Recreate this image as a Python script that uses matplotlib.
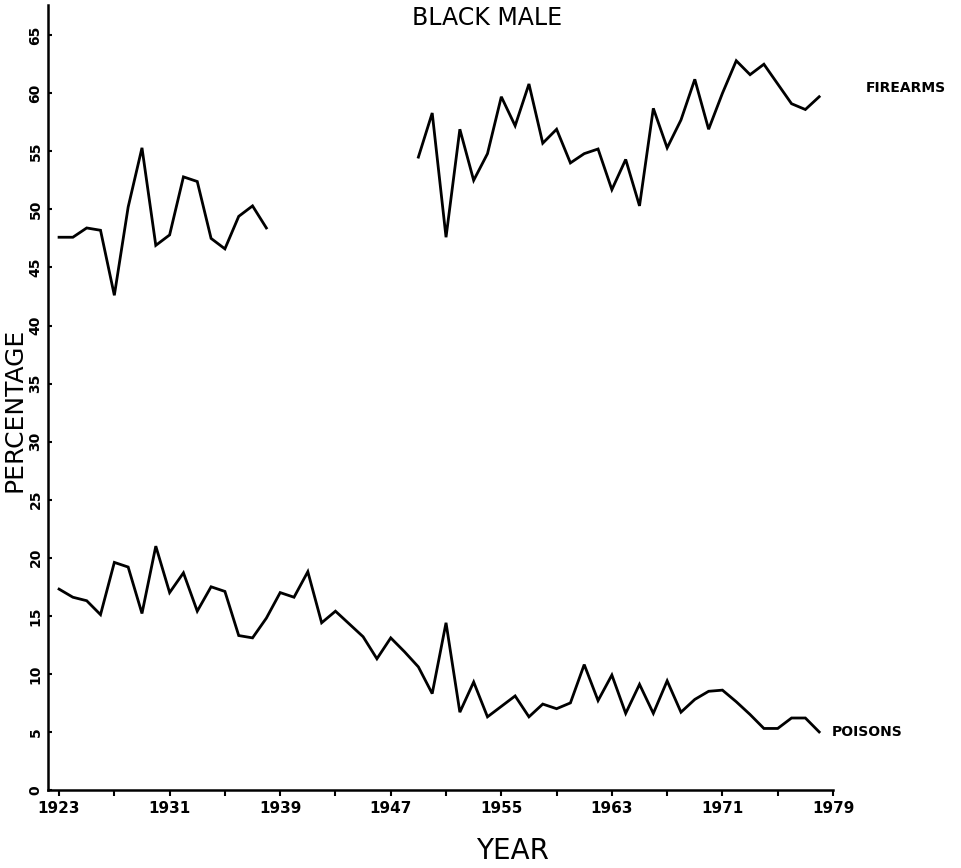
import matplotlib
matplotlib.use("Agg")
import matplotlib.pyplot as plt
import numpy as np

# ---- data ----
poison_years = list(range(1923, 1979))
poison_pct = [17.3, 16.6, 16.3, 15.1, 19.6, 19.2, 15.2, 21.0, 17.0, 18.7,
              15.4, 17.5, 17.1, 13.3, 13.1, 14.8, 17.0, 16.6, 18.8, 14.4,
              15.4, 14.3, 13.2, 11.3, 13.1, 11.9, 10.6, 8.3, 14.4, 6.7,
              9.3, 6.3, 7.2, 8.1, 6.3, 7.4, 7.0, 7.5, 10.8, 7.7,
              9.9, 6.6, 9.1, 6.6, 9.4, 6.7, 7.8, 8.5, 8.6, 7.6,
              6.5, 5.3, 5.3, 6.2, 6.2, 5.0]

fire_years_a = list(range(1923, 1939))
fire_pct_a = [47.6, 47.6, 48.4, 48.2, 42.6, 50.2, 55.3, 46.9, 47.8, 52.8,
              52.4, 47.5, 46.6, 49.4, 50.3, 48.4]

fire_years_b = list(range(1949, 1979))
fire_pct_b = [54.5, 58.3, 47.6, 56.9, 52.5, 54.8, 59.7, 57.2, 60.8, 55.7,
              56.9, 54.0, 54.8, 55.2, 51.7, 54.3, 50.3, 58.7, 55.3, 57.7,
              61.2, 56.9, 60.0, 62.8, 61.6, 62.5, 60.8, 59.1, 58.6, 59.7]

x_ticks_major = [1923, 1931, 1939, 1947, 1955, 1963, 1971, 1979]
x_ticks_minor = [1927, 1935, 1943, 1951, 1959, 1967, 1975]
y_ticks = list(range(0, 70, 5))

title = "BLACK MALE"
xlabel = "YEAR"
ylabel = "PERCENTAGE"
label_fire = "FIREARMS"
label_poison = "POISONS"

# ---- figure ----
W, H = 961, 868
fig = plt.figure(figsize=(W / 100, H / 100), dpi=100)
fig.patch.set_facecolor("white")

left_px, right_px, top_px, bottom_px = 48, 833, 5, 790
ax = fig.add_axes([left_px / W, 1 - bottom_px / H,
                   (right_px - left_px) / W, (bottom_px - top_px) / H])

lw = 2.0
ax.plot(poison_years, poison_pct, color="black", lw=lw, solid_joinstyle="miter")
ax.plot(fire_years_a, fire_pct_a, color="black", lw=lw, solid_joinstyle="miter")
ax.plot(fire_years_b, fire_pct_b, color="black", lw=lw, solid_joinstyle="miter")

ax.set_xlim(1922.2, 1979)
ax.set_ylim(0, 67.6)

for s in ["top", "right"]:
    ax.spines[s].set_visible(False)
for s in ["left", "bottom"]:
    ax.spines[s].set_linewidth(1.8)

ax.set_xticks(x_ticks_major)
ax.set_xticks(x_ticks_minor, minor=True)
ax.set_xticklabels([str(v) for v in x_ticks_major], fontsize=11, fontweight="bold")
ax.tick_params(axis="x", which="both", direction="out", length=4, width=1.5, pad=4)

ax.set_yticks(y_ticks)
ax.set_yticklabels([str(v) for v in y_ticks], fontsize=10, fontweight="bold",
                   rotation=90, va="center")
ax.tick_params(axis="y", direction="in", length=3, width=1.5, pad=4)

# axis titles
fig.text(512 / W, 1 - 851 / H, xlabel, fontsize=20, ha="center", va="center")
fig.text(15 / W, 1 - 410 / H, ylabel, fontsize=18, ha="center", va="center",
         rotation=90)
fig.text(487 / W, 1 - 18 / H, title, fontsize=17, ha="center", va="center")

fig.text(866 / W, 1 - 88 / H, label_fire, fontsize=10, fontweight="bold",
         ha="left", va="center")
fig.text(832 / W, 1 - 732 / H, label_poison, fontsize=10, fontweight="bold",
         ha="left", va="center")

fig.savefig("out.png", dpi=100, facecolor="white")
